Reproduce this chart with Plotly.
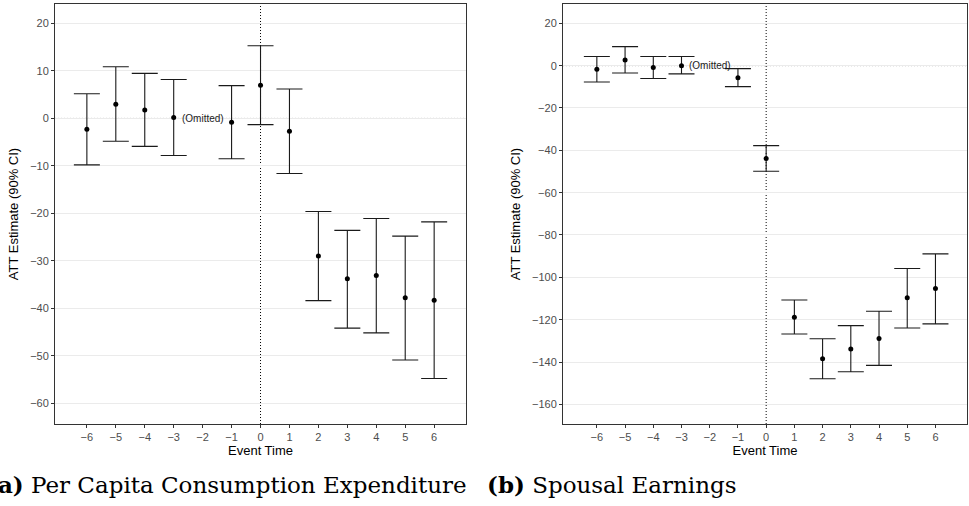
import plotly.graph_objects as go

# event time
event_time = [-6, -5, -4, -3, -1, 0, 1, 2, 3, 4, 5, 6]

# (a) per capita consumption expenditure
cons_est = [-2.3, 3.0, 1.8, 0.2, -0.8, 7.0, -2.7, -29.0, -33.8, -33.1, -37.8, -38.3]
cons_lo = [-9.8, -4.8, -5.9, -7.8, -8.5, -1.3, -11.6, -38.4, -44.2, -45.2, -50.9, -54.8]
cons_hi = [5.2, 10.9, 9.5, 8.2, 6.9, 15.3, 6.2, -19.6, -23.6, -21.1, -24.8, -21.8]

# (b) spousal earnings
earn_est = [-1.7, 2.7, -0.9, 0.0, -5.7, -43.9, -118.8, -138.5, -133.8, -128.9, -109.7, -105.3]
earn_lo = [-7.7, -3.5, -6.1, -3.9, -9.9, -49.9, -126.8, -147.9, -144.6, -141.6, -123.9, -122.0]
earn_hi = [4.3, 9.0, 4.3, 4.3, -1.4, -37.8, -110.7, -129.0, -122.8, -116.0, -95.8, -88.9]

omitted_time = -2
x_ticks = list(range(-6, 7))

FONT = "Liberation Sans"
SERIF = "DejaVu Serif"

fig = go.Figure()


def add_panel(est, lo, hi, xa, ya):
    fig.add_trace(go.Scatter(
        x=event_time, y=est, mode="markers",
        marker=dict(color="black", size=5),
        error_y=dict(type="data", symmetric=False,
                     array=[h - e for h, e in zip(hi, est)],
                     arrayminus=[e - l for e, l in zip(est, lo)],
                     color="#1a1a1a", thickness=1.1, width=13),
        xaxis=xa, yaxis=ya, showlegend=False, hoverinfo="skip"))
    fig.add_annotation(x=omitted_time, y=0, xref=xa, yref=ya, text="(Omitted)",
                       showarrow=False, font=dict(family=FONT, size=10, color="#1a1a1a"))
    # reference lines
    fig.add_shape(type="line", xref=xa + " domain", yref=ya, x0=0, x1=1, y0=0, y1=0,
                  line=dict(color="#666666", width=1, dash="1px,2px"), layer="below")
    fig.add_shape(type="line", xref=xa, yref=ya + " domain", x0=0, x1=0, y0=0, y1=1,
                  line=dict(color="black", width=1, dash="1px,2px"), layer="below")


add_panel(cons_est, cons_lo, cons_hi, "x", "y")
add_panel(earn_est, earn_lo, earn_hi, "x2", "y2")

xcommon = dict(tickvals=x_ticks, showgrid=False, zeroline=False, showline=True, mirror=True,
               linecolor="#333333", linewidth=1, ticks="outside", ticklen=3, tickcolor="#333333",
               automargin=False,
               tickfont=dict(family=FONT, size=11, color="#4d4d4d"),
               title=dict(text="Event Time", font=dict(family=FONT, size=13, color="black"), standoff=2))
ycommon = dict(showgrid=True, gridcolor="#ebebeb", gridwidth=1, zeroline=False, showline=True,
               mirror=True, linecolor="#333333", linewidth=1, ticks="outside", ticklen=3,
               tickcolor="#333333", automargin=False,
               tickfont=dict(family=FONT, size=11, color="#4d4d4d"),
               title=dict(text="ATT Estimate (90% CI)", font=dict(family=FONT, size=13, color="black"),
                          standoff=8))

fig.update_layout(
    width=969, height=506, margin=dict(l=0, r=0, t=0, b=0),
    paper_bgcolor="white", plot_bgcolor="white",
    xaxis=dict(xcommon, domain=[0.0568, 0.4809], range=[-7.1, 7.1], anchor="y"),
    yaxis=dict(ycommon, domain=[0.162, 0.992], range=[-64.4, 24.1], dtick=10, anchor="x"),
    xaxis2=dict(xcommon, domain=[0.581, 0.998], range=[-7.2, 7.12], anchor="y2"),
    yaxis2=dict(ycommon, domain=[0.162, 0.992], range=[-169.3, 29.1], dtick=20, anchor="x2"),
)

fig.add_annotation(x=-0.0158, y=0.042, xref="paper", yref="paper", xanchor="left", yanchor="middle",
                   text="<b>(a)</b> Per Capita Consumption Expenditure", showarrow=False,
                   font=dict(family=SERIF, size=23, color="black"))
fig.add_annotation(x=0.5, y=0.042, xref="paper", yref="paper", xanchor="left", yanchor="middle",
                   text="<b>(b)</b> Spousal Earnings", showarrow=False,
                   font=dict(family=SERIF, size=23, color="black"))

# page body has a default 8px margin; drop it so the figure sits at the corner
fig.write_html("out.html", config={"displayModeBar": False},
               post_script="document.body.style.margin='0';")
